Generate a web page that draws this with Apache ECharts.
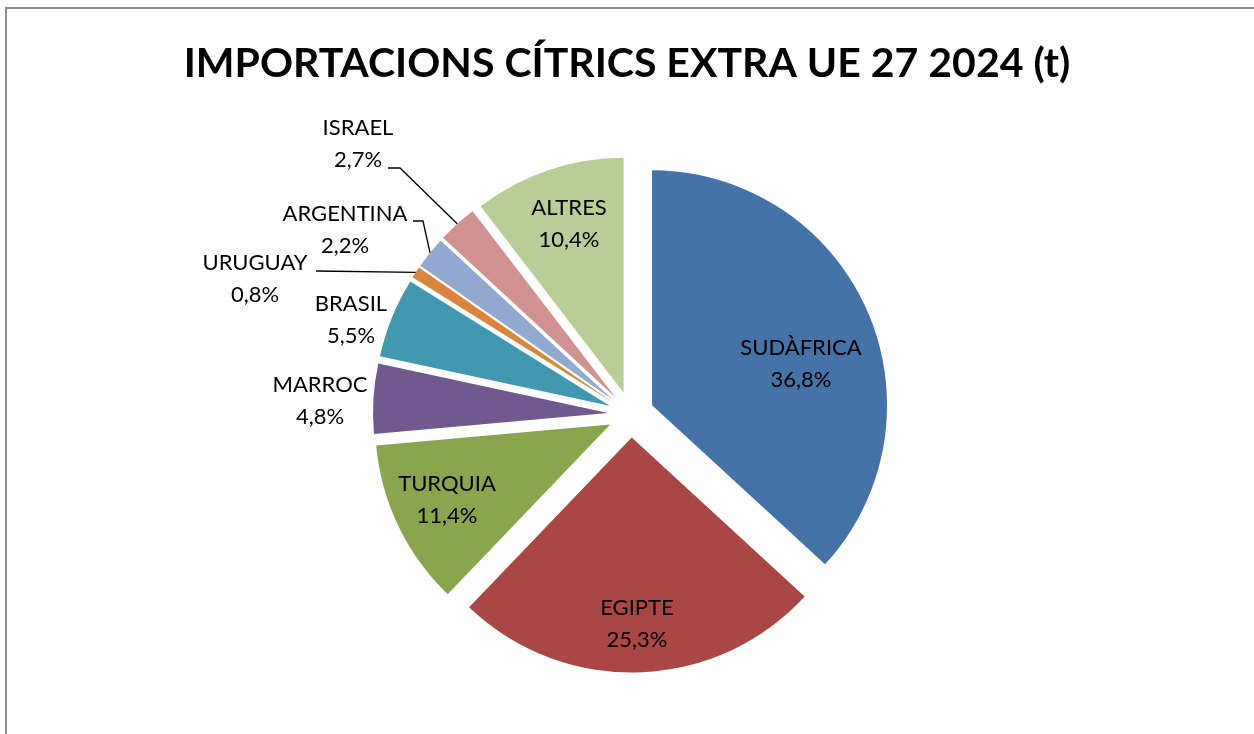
<!DOCTYPE html>
<html>
<head>
<meta charset="utf-8">
<script src="https://cdn.jsdelivr.net/npm/echarts@6/dist/echarts.min.js"></script>
<style>
  html, body { margin: 0; padding: 0; background: #fff; }
  #chart { width: 1254px; height: 734px; }
</style>
</head>
<body>
<div id="chart"></div>
<script>
// share of extra-EU citrus imports, %, clockwise from 12 o'clock
const countries = ['SUDÀFRICA', 'EGIPTE', 'TURQUIA', 'MARROC', 'BRASIL', 'URUGUAY', 'ARGENTINA', 'ISRAEL', 'ALTRES'];
const shares = [36.8, 25.3, 11.4, 4.8, 5.5, 0.8, 2.2, 2.7, 10.4];
const palette = ['#4572A7', '#AA4643', '#89A54E', '#71588F', '#4198AF', '#DB843D', '#93A9CF', '#D19392', '#B9CD96'];

const CX = 631, CY = 414.5, R = 235, GAP = 23;
const FONT = 'Lato, "Open Sans", sans-serif';

// where each data label sits (centre of the two-line block);
// `end` is where the leader line meets the text, relative to that centre
const labelSpot = [
  { x: 801, y: 364 },
  { x: 637, y: 624 },
  { x: 447, y: 500 },
  { x: 320, y: 401 },
  { x: 351, y: 320 },
  { x: 255, y: 279, end: [61, -8], elbow: 0 },
  { x: 345, y: 230, end: [68, -9], elbow: 10 },
  { x: 358, y: 144, end: [30, 24], elbow: 12 },
  { x: 569, y: 224 }
];

const total = shares.reduce((a, b) => a + b, 0);
const midDir = (i) => {
  let before = 0;
  for (let k = 0; k < i; k++) before += shares[k];
  const a = (before + shares[i] / 2) / total * Math.PI * 2;
  return [Math.sin(a), -Math.cos(a)];
};

const fmt = (v) => v.toFixed(1).replace('.', ',') + '%';

const chart = echarts.init(document.getElementById('chart'));

const pieBase = {
  type: 'pie',
  center: [CX, CY],
  radius: [0, R],
  startAngle: 90,
  clockwise: true,
  emphasis: { disabled: true }
};

chart.setOption({
  animation: false,
  title: {
    text: 'IMPORTACIONS CÍTRICS EXTRA UE 27 2024 (t)',
    left: 'center',
    top: 38,
    textStyle: { fontFamily: FONT, fontWeight: 'bold', fontSize: 41, color: '#000' }
  },
  graphic: [{
    type: 'rect',
    shape: { x: 6, y: 8, width: 1400, height: 900 },
    style: { fill: 'none', stroke: '#8c8c8c', lineWidth: 2 },
    silent: true
  }],
  series: [
    // the exploded slices
    Object.assign({}, pieBase, {
      selectedMode: 'multiple',
      selectedOffset: GAP,
      select: { disabled: false },
      label: { show: false },
      labelLine: { show: false },
      data: countries.map((name, i) => ({
        name,
        value: shares[i],
        selected: true,
        itemStyle: { color: palette[i] }
      }))
    }),
    // same data, transparent, only carries the data labels
    Object.assign({}, pieBase, {
      silent: true,
      z: 3,
      itemStyle: { color: 'rgba(0,0,0,0)' },
      label: {
        position: 'outside',
        fontFamily: FONT,
        fontSize: 22,
        lineHeight: 32,
        color: '#000',
        align: 'center',
        formatter: (p) => p.name + '\n' + fmt(p.value)
      },
      labelLine: { show: true, lineStyle: { color: '#000', width: 1.3 } },
      labelLayout: (p) => {
        const i = p.dataIndex;
        const s = labelSpot[i];
        const out = { x: s.x, y: s.y, align: 'center', verticalAlign: 'middle' };
        if (s.end) {
          const [dx, dy] = midDir(i);
          const anchor = [CX + dx * (GAP + R), CY + dy * (GAP + R)];
          const end = [s.x + s.end[0], s.y + s.end[1]];
          out.labelLinePoints = [anchor, [end[0] + s.elbow, end[1]], end];
        }
        return out;
      },
      data: countries.map((name, i) => ({
        name,
        value: shares[i],
        labelLine: { show: !!labelSpot[i].end }
      }))
    })
  ]
});
</script>
</body>
</html>
